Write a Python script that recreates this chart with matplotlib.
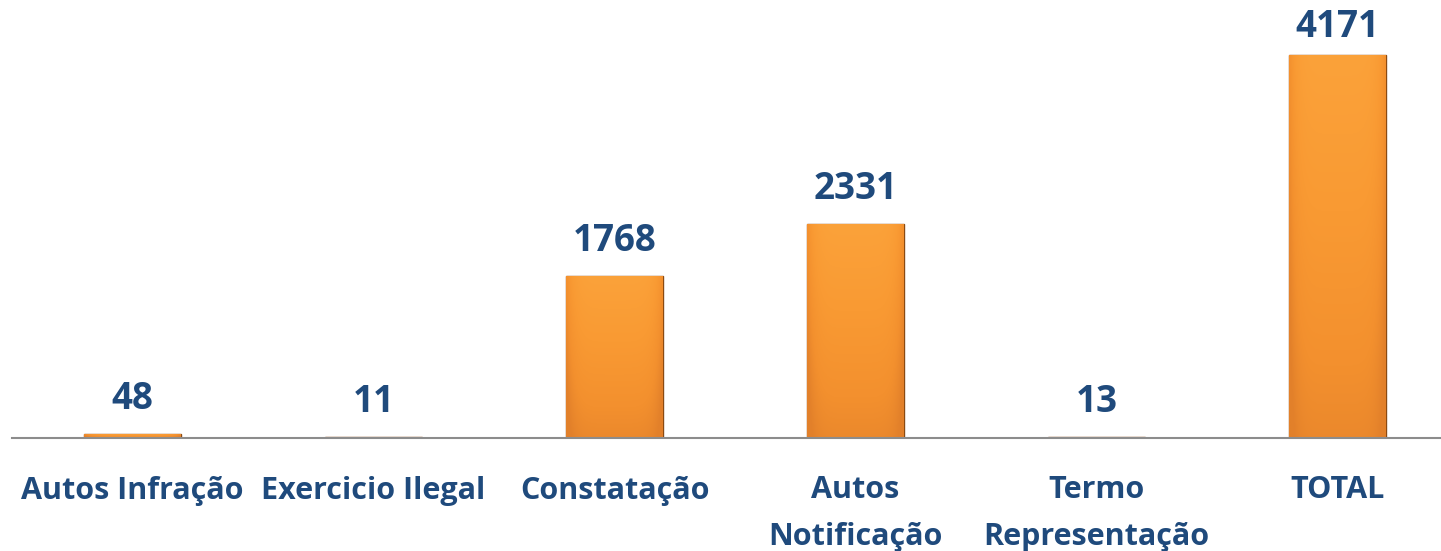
import matplotlib
matplotlib.use("Agg")
import matplotlib.pyplot as plt
import numpy as np
from matplotlib.colors import LinearSegmentedColormap

categories = ["Autos Infração", "Exercicio Ilegal", "Constatação", "Autos\nNotificação", "Termo\nRepresentação", "TOTAL"]
values = [48, 11, 1768, 2331, 13, 4171]

W, H = 1441, 551
fig = plt.figure(figsize=(W / 100, H / 100), dpi=100)
left, right, base = 12, 1441, 438
ax = fig.add_axes([left / W, (H - base) / H, (right - left) / W, base / H])

spacing = 241.0
xmax = -0.5 + (right - left) / spacing
ymax = 4171 * base / 383.0

x = np.arange(len(categories))
bars = ax.bar(x, values, width=0.4, color="#F5922F", edgecolor="#8A4A12", linewidth=1.0, zorder=2)

cmap = LinearSegmentedColormap.from_list("g", ["#E2802A", "#F3902E", "#F99A33", "#FBA23A"])
gx = np.linspace(-1, 1, 64)
gy = np.linspace(0, 1, 128)
horiz = 1 - 0.35 * np.abs(gx) ** 6
vert = 0.55 + 0.45 * gy
grad = vert[:, None] * horiz[None, :]
for b in bars:
    bx, by = b.get_x(), b.get_y()
    bw, bh = b.get_width(), b.get_height()
    if bh <= 0:
        continue
    im = ax.imshow(grad, extent=(bx, bx + bw, by, by + bh), origin="lower", cmap=cmap,
                   vmin=0.45, vmax=1.0, aspect="auto", zorder=2.5, interpolation="bicubic")
    im.set_clip_path(b)

ax.set_xlim(-0.5, xmax)
ax.set_ylim(0, ymax)

text_color = "#1F4A7C"
font = "Open Sans"
for xi, v in zip(x, values):
    room = (ymax - v) / ymax * base
    off = min(16, room - 46)
    ax.annotate(str(v), (xi, v), xytext=(0, off), textcoords="offset pixels",
                ha="center", va="bottom", fontsize=26.5, fontweight="bold",
                color=text_color, family=font)

for s in ["top", "right", "left"]:
    ax.spines[s].set_visible(False)
ax.spines["bottom"].set_color("#8C8C8C")
ax.spines["bottom"].set_linewidth(1.5)
ax.spines["bottom"].set_zorder(3)
ax.set_yticks([])
ax.set_xticks(x)
ax.set_xticklabels(categories, fontsize=22, fontweight="bold", color=text_color,
                   family=font, linespacing=1.73, va="top")
ax.tick_params(axis="x", length=0, pad=27)

fig.savefig("out.png", dpi=100)
